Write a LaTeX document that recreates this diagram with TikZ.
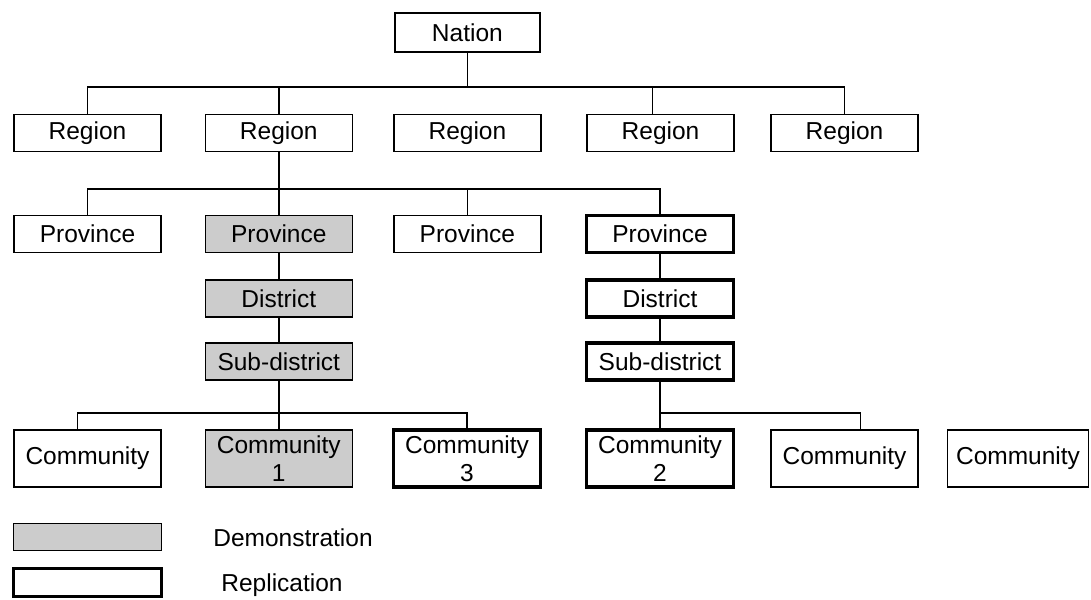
\documentclass[tikz,border=0pt]{standalone}
\usepackage{fontspec}
\setmainfont{Liberation Sans}
\begin{document}
\begin{tikzpicture}[x=1pt,y=-1pt,
  box/.style={draw=black, line width=1.6pt, inner sep=0pt, minimum width=147pt, minimum height=37pt,
    font=\fontsize{24.5}{28}\selectfont, align=center},
  demo/.style={box, fill=black!20},
  repl/.style={box, line width=3.5pt},
  link/.style={draw=black, line width=1.6pt},
  lbl/.style={inner sep=0pt, font=\fontsize{24.5}{28}\selectfont}]
\useasboundingbox (0,0) rectangle (1091,599);
% Nation
\node[box, minimum width=145pt, minimum height=39pt] (nation) at (467.4,32.5) {Nation};
% Regions
\node[box] (r1) at (87.5,133) {Region};
\node[box] (r2) at (278.8,133) {Region};
\node[box] (r3) at (467.4,133) {Region};
\node[box] (r4) at (660.5,133) {Region};
\node[box] (r5) at (844.5,133) {Region};
% Provinces
\node[box] (p1) at (87.5,234) {Province};
\node[demo] (p2) at (278.8,234) {Province};
\node[box] (p3) at (467.4,234) {Province};
\node[repl] (p4) at (660,234) {Province};
% Districts
\node[demo] (d1) at (278.8,298.5) {District};
\node[repl] (d2) at (660,298.5) {District};
% Sub-districts
\node[demo] (s1) at (278.8,361.5) {Sub-district};
\node[repl] (s2) at (660,361.5) {Sub-district};
% Communities
\node[box, minimum height=57pt] (c0) at (87.5,458.5) {Community};
\node[demo, minimum height=57pt] (c1) at (278.8,458.5) {Community\\1};
\node[repl, minimum height=57pt] (c3) at (467,458.5) {Community\\3};
\node[repl, minimum height=57pt] (c2) at (660,458.5) {Community\\2};
\node[box, minimum height=57pt] (c4) at (844.5,458.5) {Community};
\node[box, minimum width=141pt, minimum height=57pt] (c5) at (1018,458.5) {Community};
% bus coordinates
\coordinate (rbus) at (0,87);
\coordinate (pbus) at (0,189);
\coordinate (cbus) at (0,413);
% Nation -> Regions
\draw[link] (nation.south) -- (nation.south |- rbus);
\draw[link] (r1.north) |- (r5.north |- rbus) -- (r5.north);
\draw[link] (r2.north) -- (r2.north |- rbus);
\draw[link] ([xshift=-8pt]r4.north) -- ([xshift=-8pt]r4.north |- rbus);
% Region -> Provinces
\draw[link] (r2.south) -- (p2.north);
\draw[link] (p1.north) |- (p4.north |- pbus) -- (p4.north);
\draw[link] (p3.north) -- (p3.north |- pbus);
% chains
\draw[link] (p2.south) -- (d1.north);
\draw[link] (d1.south) -- (s1.north);
\draw[link] (p4.south) -- (d2.north);
\draw[link] (d2.south) -- (s2.north);
% Sub-district -> Communities (left)
\draw[link] (s1.south) -- (c1.north);
\draw[link] ([xshift=-10pt]c0.north) |- (c3.north |- cbus) -- (c3.north);
% Sub-district -> Communities (right)
\draw[link] (s2.south) -- (c2.north);
\draw[link] (c2.north |- cbus) -| ([xshift=16pt]c4.north);
% Legend
\node[demo, minimum width=148pt, minimum height=27pt] (ld) at (87.5,537) {};
\node[lbl] (ldt) at (293,538) {Demonstration};
\node[lbl] (lrt) at (282,585) {Replication};
\node[repl, minimum width=148pt, minimum height=28pt] (lr) at (87.5,582.5) {};
\end{tikzpicture}
\end{document}
